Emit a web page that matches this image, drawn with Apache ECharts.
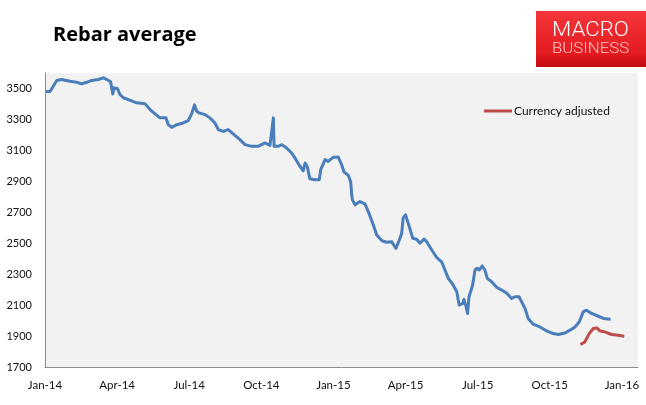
<!DOCTYPE html>
<html>
<head>
<meta charset="utf-8">
<script src="https://cdn.jsdelivr.net/npm/echarts@6/dist/echarts.min.js"></script>
<style>
html,body{margin:0;padding:0;background:#fff;}
#chart{width:646px;height:405px;}
</style>
</head>
<body>
<div id="chart"></div>
<script>
// Month position measured from Jan-14 (0 = 1 Jan 2014, 24 = 1 Jan 2016)
const xTickLabels = ['Jan-14','Apr-14','Jul-14','Oct-14','Jan-15','Apr-15','Jul-15','Oct-15','Jan-16'];
const yTickLabels = [1700,1900,2100,2300,2500,2700,2900,3100,3300,3500];

const rebarMonths = [0.04,0.21,0.32,0.49,0.69,1.04,1.32,1.53,1.73,1.94,2.22,2.43,2.57,2.73,2.82,2.87,3.01,3.12,3.26,3.47,3.81,4.16,4.37,4.58,4.78,5.03,5.13,5.27,5.48,5.75,5.96,6.10,6.22,6.31,6.41,6.66,6.86,7.07,7.21,7.42,7.62,7.83,8.11,8.32,8.60,8.87,9.15,9.36,9.50,9.53,9.70,9.85,10.05,10.26,10.44,10.61,10.74,10.82,10.91,11.02,11.23,11.41,11.47,11.65,11.78,11.99,12.20,12.34,12.44,12.62,12.72,12.76,12.79,12.90,13.10,13.31,13.45,13.66,13.80,14.01,14.21,14.42,14.60,14.74,14.84,14.90,15.00,15.11,15.30,15.46,15.60,15.77,15.88,16.09,16.29,16.50,16.64,16.78,16.98,17.13,17.23,17.38,17.43,17.50,17.58,17.64,17.79,17.89,17.98,18.07,18.19,18.30,18.40,18.58,18.79,19.00,19.21,19.41,19.55,19.72,19.83,19.97,20.10,20.31,20.59,20.87,21.14,21.35,21.63,21.84,22.05,22.23,22.39,22.53,22.74,23.02,23.23,23.53];
const rebarValues = [3480,3480,3508,3552,3558,3547,3540,3530,3540,3552,3558,3569,3558,3543,3465,3504,3500,3461,3440,3428,3407,3402,3364,3336,3310,3310,3266,3249,3266,3277,3292,3336,3394,3353,3342,3331,3310,3277,3234,3223,3234,3206,3169,3137,3126,3126,3148,3132,3310,3126,3126,3137,3115,3083,3040,2996,2968,3018,2996,2916,2910,2910,2975,3040,3029,3055,3057,3007,2960,2938,2895,2813,2780,2748,2769,2754,2704,2618,2553,2517,2506,2510,2467,2521,2565,2662,2683,2629,2532,2526,2500,2526,2510,2456,2409,2380,2327,2273,2230,2186,2100,2111,2137,2100,2046,2154,2230,2327,2338,2327,2353,2327,2273,2251,2215,2197,2176,2143,2154,2154,2121,2078,2014,1977,1959,1933,1916,1910,1920,1938,1959,1992,2056,2067,2046,2028,2014,2009];

const currencyMonths = [22.28,22.46,22.64,22.81,22.95,23.09,23.29,23.57,23.85,24.10];
const currencyValues = [1845,1862,1916,1949,1953,1933,1927,1910,1905,1899];

const seriesNames = ['Rebar average','Currency adjusted'];

const pair = (xs, ys) => xs.map((x, i) => [x, ys[i]]);
const FONT = 'Lato';

const chart = echarts.init(document.getElementById('chart'), null, {renderer: 'canvas'});
chart.setOption({
  animation: false,
  backgroundColor: '#ffffff',
  title: {
    text: 'Rebar average',
    left: 53, top: 25, padding: 0,
    textStyle: {fontFamily: 'Open Sans', fontWeight: 'bold', fontSize: 20, color: '#000'}
  },
  graphic: [
    {
      type: 'rect', left: 536, top: 11,
      shape: {width: 110, height: 56},
      style: {
        fill: new echarts.graphic.LinearGradient(0, 0, 0, 1, [
          {offset: 0, color: '#f4363a'},
          {offset: 0.75, color: '#e41b20'},
          {offset: 1, color: '#c10a0f'}
        ])
      }
    },
    {
      type: 'text', x: 552, y: 21, scaleX: 1.14,
      style: {text: 'MACRO', fill: '#ffffff', font: '300 19.5px Roboto'}
    },
    {
      type: 'text', x: 552, y: 42, scaleX: 1.2,
      style: {text: 'BUSINESS', fill: '#f6c9c9', font: '300 14px Roboto'}
    }
  ],
  legend: {
    data: ['Currency adjusted'],
    left: 484, top: 105, padding: 0,
    icon: 'rect',
    itemWidth: 28, itemHeight: 3, itemGap: 4,
    textStyle: {fontFamily: FONT, fontSize: 12, color: '#111', padding: [0,0,0,-3]}
  },
  grid: {
    left: 45, top: 73, right: 8, bottom: 38,
    show: true, backgroundColor: '#f2f2f2', borderWidth: 0
  },
  xAxis: {
    type: 'value', min: 0, max: 24.67, interval: 3,
    axisLine: {show: true, lineStyle: {color: '#8c8c8c', width: 1}},
    axisTick: {show: false},
    splitLine: {show: false},
    axisLabel: {
      fontFamily: FONT, fontSize: 11.5, color: '#111', margin: 12,
      formatter: v => {
        const i = Math.round(v / 3);
        return Math.abs(v - i * 3) < 1e-6 && xTickLabels[i] ? xTickLabels[i] : '';
      }
    }
  },
  yAxis: {
    type: 'value', min: 1700, max: 3600, interval: 200,
    axisLine: {show: true, lineStyle: {color: '#8c8c8c', width: 1}},
    axisTick: {show: false},
    splitLine: {show: false},
    axisLabel: {
      fontFamily: FONT, fontSize: 11, color: '#111', margin: 13,
      formatter: v => yTickLabels.indexOf(v) >= 0 ? String(v) : ''
    }
  },
  series: [
    {
      name: seriesNames[0], type: 'line', symbol: 'none',
      data: pair(rebarMonths, rebarValues),
      lineStyle: {color: '#4a7ebb', width: 3, join: 'round'},
      itemStyle: {color: '#4a7ebb'}
    },
    {
      name: seriesNames[1], type: 'line', symbol: 'none',
      data: pair(currencyMonths, currencyValues),
      lineStyle: {color: '#be4b48', width: 3, join: 'round'},
      itemStyle: {color: '#be4b48'}
    }
  ]
});
</script>
</body>
</html>
